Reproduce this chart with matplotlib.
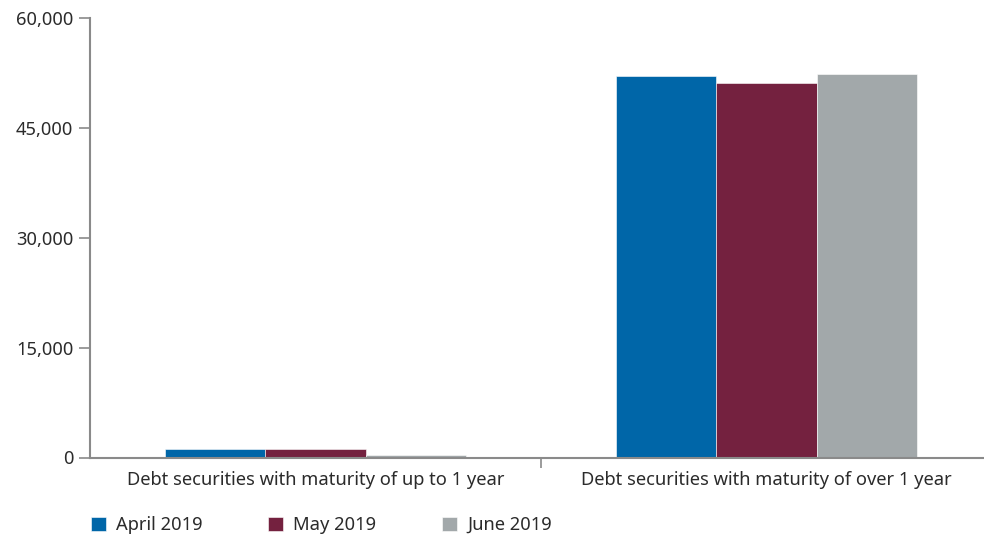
import numpy as np
import matplotlib.pyplot as plt
from matplotlib.ticker import FuncFormatter

# Dados
categorias = ['Debt securities with maturity of up to 1 year',
              'Debt securities with maturity of over 1 year']
series = ['April 2019', 'May 2019', 'June 2019']
abril = [1200, 52100]
maio = [1200, 51150]
junho = [300, 52300]
cores = ['#0066A8', '#74213F', '#A2A8AA']

plt.rcParams['font.family'] = ['Noto Sans', 'DejaVu Sans']
texto = '#2b2b2b'
eixo = '#8a8a8a'
fs = 13.2

fig = plt.figure(figsize=(9.84, 5.34), dpi=100)
ax = fig.add_axes([90 / 984, (534 - 457.5) / 534, 1 - 90 / 984, (457.5 - 18) / 534])

x = np.arange(len(categorias))
largura = 0.222
for i, (valores, nome) in enumerate(zip([abril, maio, junho], series)):
    ax.bar(x + (i - 1) * largura, valores, largura, color=cores[i], label=nome,
           edgecolor='white', linewidth=0.4)

ax.set_ylim(0, 60000)
ax.set_yticks([0, 15000, 30000, 45000, 60000])
ax.yaxis.set_major_formatter(FuncFormatter(lambda v, p: f'{v:,.0f}'))
ax.set_xlim(-0.5, 1.5 - 8 / 451)

# Rótulos das categorias no centro, ticks nas fronteiras
ax.set_xticks([0.5])
ax.set_xticklabels([''])
ax.set_xticks(x, minor=True)
ax.set_xticklabels(categorias, minor=True)
ax.tick_params(axis='x', which='minor', length=0, pad=10, labelsize=fs, labelcolor=texto)
ax.tick_params(axis='x', which='major', length=7, width=1.2, color=eixo, direction='out')
ax.tick_params(axis='y', length=8, width=1.2, color=eixo, labelsize=fs, labelcolor=texto, pad=4)

for lado in ['top', 'right']:
    ax.spines[lado].set_visible(False)
for lado in ['left', 'bottom']:
    ax.spines[lado].set_color(eixo)
    ax.spines[lado].set_linewidth(1.5)

fig.legend(loc='lower left', bbox_to_anchor=(91 / 984, 0.0), ncol=3, frameon=False,
           fontsize=fs, handlelength=0.8, handleheight=0.8, handletextpad=0.55,
           columnspacing=3.6, borderpad=0, borderaxespad=0, labelcolor=texto)

fig.savefig('out.png', dpi=100)
